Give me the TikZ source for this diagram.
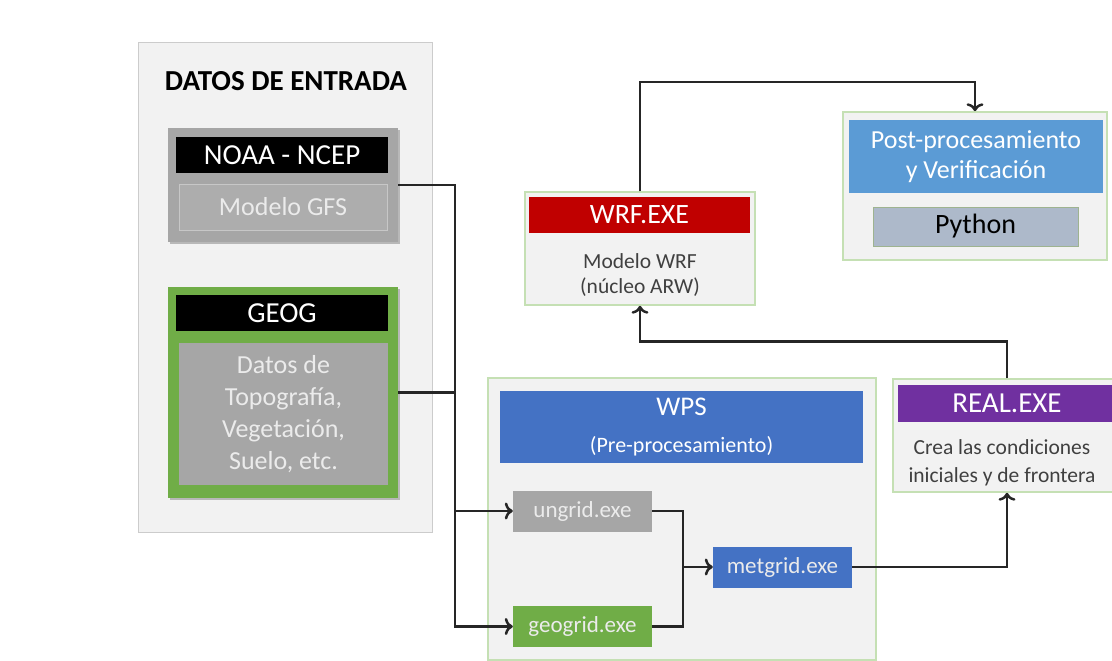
\documentclass[tikz,border=0pt]{standalone}
\usepackage{fontspec}
\setmainfont{Carlito}
\usepackage{xcolor}
\usetikzlibrary{shadows,arrows.meta}
\definecolor{panelgray}{HTML}{F2F2F2}
\definecolor{framegreen}{HTML}{C5E0B4}
\definecolor{boxgray}{HTML}{A6A6A6}
\definecolor{boxgreen}{HTML}{70AD47}
\definecolor{wpsblue}{HTML}{4472C4}
\definecolor{postblue}{HTML}{5B9BD5}
\definecolor{realpurple}{HTML}{7030A0}
\definecolor{wrfred}{HTML}{C00000}
\definecolor{pyblue}{HTML}{ADB9CA}
\definecolor{bodytext}{HTML}{404040}
\definecolor{lighttext}{HTML}{EBEBEB}
\newcommand{\fsz}[2]{\fontsize{#1}{#2}\selectfont}
\tikzset{
	frame/.style={draw=framegreen, fill=panelgray, line width=1.5pt, inner sep=0pt},
	bar/.style={inner sep=0pt, text=white},
	exebox/.style={inner sep=0pt, text=lighttext, minimum width=139pt, minimum height=41pt, font=\fsz{23}{27}},
	link/.style={draw=black!85, line width=2.5pt},
}

\begin{document}
\begin{tikzpicture}[x=1pt, y=-1pt, >={To[length=8pt, width=17pt]}]
			\useasboundingbox (0,0) rectangle (1112,661);
			\node[draw=black!20, fill=panelgray, line width=1pt, inner sep=0pt, minimum width=294pt, minimum height=489pt] (datos) at (285,287.5) {};
			\node[font=\bfseries\fsz{29}{34}] (titulo) at (286,81) {DATOS DE ENTRADA};
			\node[fill=boxgray, drop shadow, inner sep=0pt, minimum width=230pt, minimum height=114pt] (noaa) at (283,185) {};
			\node[bar, fill=black, minimum width=212pt, minimum height=36pt, font=\fsz{29}{34}] (noaat) at (282,155) {NOAA - NCEP};
			\node[fill=boxgray!92!white, draw=black!22, inner sep=0pt, minimum width=208pt, minimum height=46pt, text=lighttext, font=\fsz{26}{30}] (gfs) at (283,207) {Modelo GFS};
			\node[fill=boxgreen, drop shadow, inner sep=0pt, minimum width=230pt, minimum height=211pt] (geog) at (283,392.5) {};
			\node[bar, fill=black, minimum width=212pt, minimum height=36pt, font=\fsz{29}{34}] (geogt) at (282,313) {GEOG};
			\node[fill=boxgray, inner sep=0pt, minimum width=209pt, minimum height=142pt, text=lighttext, align=center, font=\fsz{26}{32}] (geogd) at (283.5,414) {Datos de\\Topografía,\\Vegetación,\\Suelo, etc.};
			\node[frame, minimum width=388pt, minimum height=282pt] (wps) at (682,519) {};
			\node[bar, fill=wpsblue, minimum width=363pt, minimum height=72pt, align=center, font=\fsz{22}{37}] (wpst) at (681.5,427) {{\fsz{27}{37}WPS}\\(Pre-procesamiento)};
			\node[exebox, fill=boxgray] (ungrid) at (582.5,511) {ungrid.exe};
			\node[exebox, fill=boxgreen] (geogrid) at (582.5,626.5) {geogrid.exe};
			\node[exebox, fill=wpsblue] (metgrid) at (782.5,567) {metgrid.exe};
			\node[frame, minimum width=228pt, minimum height=113pt] (real) at (1007,435.5) {};
			\node[bar, fill=realpurple, minimum width=218pt, minimum height=37pt, font=\fsz{29}{34}] (realt) at (1007,403.5) {REAL.EXE};
			\node[text=bodytext, align=center, font=\fsz{21.5}{28}] (reald) at (1002,463) {Crea las condiciones\\iniciales y de frontera};
			\node[frame, minimum width=230pt, minimum height=113pt] (wrf) at (640,248.5) {};
			\node[bar, fill=wrfred, minimum width=221pt, minimum height=36pt, font=\fsz{28}{33}] (wrft) at (639.5,215) {WRF.EXE};
			\node[text=bodytext, align=center, font=\fsz{21.5}{25}] (wrfd) at (640,275.5) {Modelo WRF\\(núcleo ARW)};
			\node[frame, minimum width=264pt, minimum height=148pt] (post) at (975,186) {};
			\node[bar, fill=postblue, minimum width=254pt, minimum height=73pt, align=center, font=\fsz{26}{30}] (postt) at (976,156.5) {Post-procesamiento\\y Verificación};
			\node[fill=pyblue, draw=framegreen!80!black, line width=1pt, inner sep=0pt, minimum width=205pt, minimum height=39pt, font=\fsz{28}{32}] (python) at (975.5,226.5) {Python};
			\coordinate (bus) at (455,0);
			\coordinate (join) at (683,0);
			\draw[link, ->] (noaa.east) -| (bus |- ungrid.west) -- (ungrid.west);
			\draw[link, ->] (geog.east) -| (bus |- geogrid.west) -- (geogrid.west);
			\draw[link] (ungrid.east) -| (join |- metgrid.west);
			\draw[link, ->] (geogrid.east) -| (join |- metgrid.west) -- (metgrid.west);
			\draw[link, ->] (metgrid.east) -| (real.south);
			\draw[link, ->] (real.north) -- ++(0,-37) -| (wrf.south);
			\draw[link, ->] (wrf.north) -- ++(0,-109) -| (post.north);
		\end{tikzpicture}
\end{document}
